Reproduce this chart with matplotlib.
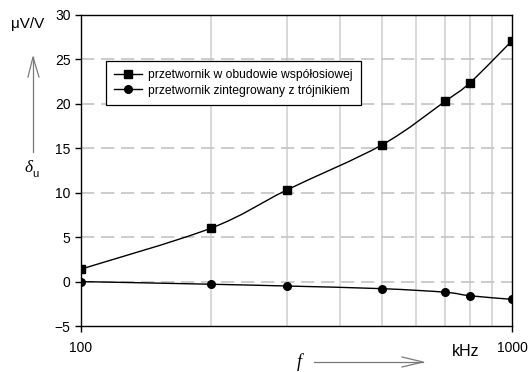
import matplotlib.pyplot as plt
import numpy as np
from matplotlib.path import Path
from matplotlib.patches import PathPatch

plt.rcParams['font.family'] = ['Liberation Sans', 'DejaVu Sans']

freq = [100, 200, 300, 500, 700, 800, 1000]
coax = [1.4, 6.0, 10.3, 15.4, 20.3, 22.4, 27.1]
tee = [0.0, -0.3, -0.5, -0.8, -1.2, -1.6, -2.0]
labels = ['przetwornik w obudowie współosiowej',
          'przetwornik zintegrowany z trójnikiem']


def smooth_path(xs, ys):
    # smoothed line like the spreadsheet one: Bezier segments in log-x space
    lx = np.log10(xs)
    y = np.array(ys, dtype=float)
    verts = [(xs[0], y[0])]
    codes = [Path.MOVETO]
    n = len(lx)
    for i in range(n - 1):
        p0 = (lx[max(i - 1, 0)], y[max(i - 1, 0)])
        p1 = (lx[i], y[i])
        p2 = (lx[i + 1], y[i + 1])
        p3 = (lx[min(i + 2, n - 1)], y[min(i + 2, n - 1)])
        c1 = (p1[0] + (p2[0] - p0[0]) / 6, p1[1] + (p2[1] - p0[1]) / 6)
        c2 = (p2[0] - (p3[0] - p1[0]) / 6, p2[1] - (p3[1] - p1[1]) / 6)
        for c in (c1, c2, p2):
            verts.append((10 ** c[0], c[1]))
            codes.append(Path.CURVE4)
    return Path(verts, codes)


def px(x, y):
    return x / 529, 1 - y / 372


fig = plt.figure(figsize=(5.29, 3.72), dpi=100)
ax = fig.add_axes([81 / 529, 1 - 326 / 372, 431 / 529, 311 / 372])
ax.set_xscale('log')
ax.set_xlim(100, 1000)
ax.set_ylim(-5, 30)

for f in range(200, 1000, 100):
    ax.axvline(f, color='#d2d2d2', lw=1.2, zorder=0)
for v in range(0, 30, 5):
    ax.axhline(v, color='#c4c4c4', lw=1.2, ls=(0, (8, 4)), zorder=0)

for ys in (coax, tee):
    ax.add_patch(PathPatch(smooth_path(freq, ys), fill=False, color='black', lw=1.0))

ax.plot(freq, coax, ls='none', marker='s', ms=5.5, color='black')
ax.plot(freq, tee, ls='none', marker='o', ms=5.5, color='black')

h1, = ax.plot([], [], '-s', color='black', ms=5.5, lw=1)
h2, = ax.plot([], [], '-o', color='black', ms=5.5, lw=1)
leg = ax.legend([h1, h2], labels, loc='upper left', bbox_to_anchor=(0.058, 0.852),
                borderaxespad=0, fontsize=8.7, frameon=True, fancybox=False,
                edgecolor='black', framealpha=1, borderpad=0.7, labelspacing=0.25,
                handlelength=2.3, handletextpad=0.5)
leg.get_frame().set_linewidth(0.9)

ax.set_yticks(range(-5, 31, 5))
ax.set_xticks([100, 1000])
ax.set_xticklabels(['100', '1000'])
ax.xaxis.set_minor_locator(plt.NullLocator())
ax.tick_params(axis='both', labelsize=10, length=4, width=1, direction='out', colors='black')
ax.tick_params(axis='x', pad=7)
for s in ax.spines.values():
    s.set_linewidth(1)

fig.text(*px(28, 24), 'μV/V', fontsize=11, va='center', ha='center')
fig.text(*px(466, 351), 'kHz', fontsize=11.5, va='center', ha='center')
fig.text(*px(28.5, 168), 'δ', fontsize=12.5, va='center', ha='center',
         family='Liberation Serif', style='italic')
fig.text(*px(35.5, 174), 'u', fontsize=8, va='center', ha='center')
fig.text(*px(299, 362), 'f', fontsize=13, va='center', ha='center',
         family='Liberation Serif', style='italic')

arrow_col = '#7a7a7a'
for xs, ys in [((33, 33), (152, 57)),
               ((28, 33, 39), (77, 57, 77)),
               ((314, 423), (362, 362)),
               ((402, 423, 402), (357, 362, 367))]:
    fx = [x / 529 for x in xs]
    fy = [1 - y / 372 for y in ys]
    fig.add_artist(plt.Line2D(fx, fy, color=arrow_col, lw=0.9, transform=fig.transFigure))

fig.savefig('out.png', dpi=100)
